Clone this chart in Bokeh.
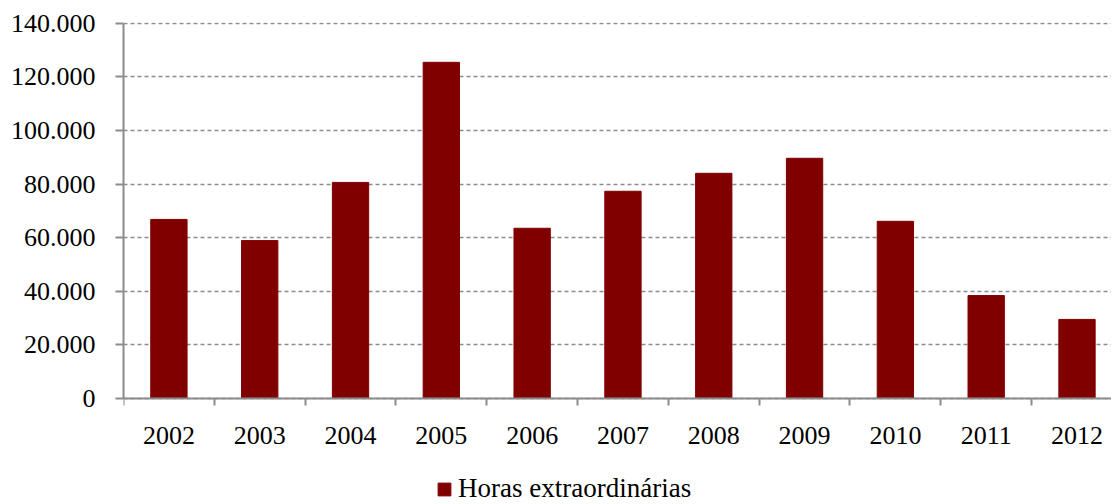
from bokeh.plotting import figure
from bokeh.models import Range1d, FixedTicker, Legend, LegendItem, ColumnDataSource
from bokeh.embed import file_html
from bokeh.resources import INLINE

years = ["2002", "2003", "2004", "2005", "2006", "2007", "2008", "2009", "2010", "2011", "2012"]
hours = [66800, 58900, 80600, 125400, 63500, 77300, 84000, 89600, 66100, 38400, 29500]
y_ticks = [0, 20000, 40000, 60000, 80000, 100000, 120000, 140000]
y_labels = ["0", "20.000", "40.000", "60.000", "80.000", "100.000", "120.000", "140.000"]
series_name = "Horas extraordinárias"

FONT = "Liberation Serif"
GRAY = "#8c8c8c"

xs = [i + 0.5 for i in range(len(years))]
src = ColumnDataSource(dict(x=xs, top=hours))

p = figure(width=1111, height=504, output_backend="svg", toolbar_location=None,
           x_range=Range1d(0, 10.88), y_range=Range1d(-39540, 140250),
           min_border_left=123, min_border_right=0, min_border_top=22, min_border_bottom=0)
p.outline_line_color = None
p.background_fill_color = "white"
p.border_fill_color = "white"

r = p.vbar(x="x", top="top", width=0.4, source=src, fill_color="#800000", line_color="#800000")

# x axis (placed at y = 0 inside the frame)
p.xaxis.fixed_location = 0
p.xaxis.ticker = FixedTicker(ticks=xs, minor_ticks=list(range(len(years) + 1)))
p.xaxis.major_label_overrides = {x: y for x, y in zip(xs, years)}
p.xaxis.major_tick_out = 0
p.xaxis.major_tick_in = 0
p.xaxis.minor_tick_out = 7
p.xaxis.minor_tick_in = 0
p.xaxis.minor_tick_line_color = GRAY
p.xaxis.minor_tick_line_width = 2
p.xaxis.axis_line_color = GRAY
p.xaxis.axis_line_width = 2
p.xaxis.major_label_text_font = FONT
p.xaxis.major_label_text_font_size = "26px"
p.xaxis.major_label_text_color = "black"
p.xaxis.major_label_standoff = 22

# y axis
p.yaxis.bounds = (0, 140000)
p.yaxis.ticker = FixedTicker(ticks=y_ticks)
p.yaxis.major_label_overrides = {t: l for t, l in zip(y_ticks, y_labels)}
p.yaxis.major_tick_out = 8
p.yaxis.major_tick_in = 0
p.yaxis.minor_tick_line_color = None
p.yaxis.major_tick_line_color = GRAY
p.yaxis.major_tick_line_width = 2
p.yaxis.axis_line_color = GRAY
p.yaxis.axis_line_width = 2
p.yaxis.major_label_text_font = FONT
p.yaxis.major_label_text_font_size = "26px"
p.yaxis.major_label_text_color = "black"
p.yaxis.major_label_standoff = 20

p.xgrid.grid_line_color = None
p.ygrid.grid_line_color = GRAY
p.ygrid.grid_line_dash = "4 3"
p.ygrid.grid_line_width = 1.5

legend = Legend(items=[LegendItem(label=series_name, renderers=[r])],
                location=(313, 0), orientation="horizontal",
                border_line_color=None, background_fill_alpha=0,
                label_text_font=FONT, label_text_font_size="27px",
                label_text_color="black", label_height=22,
                glyph_width=16, glyph_height=16, label_standoff=6,
                padding=0, margin=0)
p.add_layout(legend, "center")

open("out.html", "w").write(file_html(p, INLINE))
